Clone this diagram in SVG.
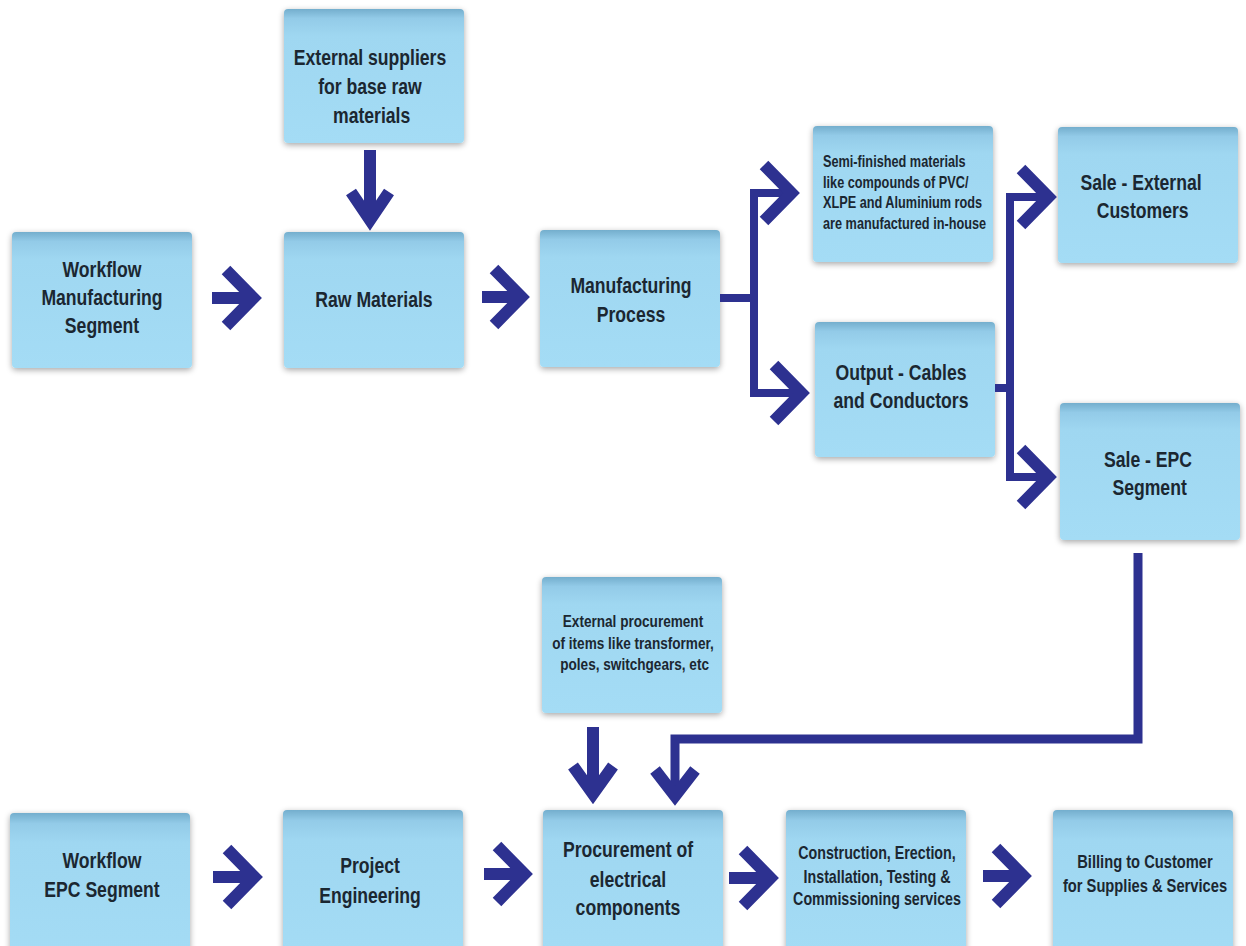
<svg xmlns="http://www.w3.org/2000/svg" width="1246" height="946" viewBox="0 0 1246 946">
<defs>
<linearGradient id="bg" x1="0" y1="0" x2="0" y2="1">
<stop offset="0" stop-color="#74aecd"/>
<stop offset="0.07" stop-color="#93cbe8"/>
<stop offset="0.2" stop-color="#9fd7f1"/>
<stop offset="1" stop-color="#a4dcf5"/>
</linearGradient>
<filter id="sh" x="-10%" y="-10%" width="120%" height="125%">
<feGaussianBlur in="SourceAlpha" stdDeviation="3"/>
<feOffset dx="0" dy="2" result="b"/>
<feComponentTransfer><feFuncA type="linear" slope="0.35"/></feComponentTransfer>
<feMerge><feMergeNode/><feMergeNode in="SourceGraphic"/></feMerge>
</filter>
<style>
.box{fill:url(#bg);filter:url(#sh);}
.t{font-family:"Liberation Sans",Arial,sans-serif;font-weight:bold;fill:#1b2731;text-anchor:middle;}
.l{font-size:22px;}
.a{fill:none;stroke:#2d3190;stroke-width:12;stroke-linejoin:miter;stroke-miterlimit:10;}
.c{fill:none;stroke:#2d3190;stroke-width:8;stroke-linejoin:miter;}
</style>
</defs>
<rect width="1246" height="946" fill="#ffffff"/>

<g id="n1"><rect class="box" x="12" y="232" width="180" height="136" rx="4"/>
<text class="t l" transform="translate(102 0) scale(0.8 1)"><tspan x="0" y="277">Workflow</tspan><tspan x="0" y="305">Manufacturing</tspan><tspan x="0" y="333">Segment</tspan></text></g>

<g id="n2"><rect class="box" x="284" y="9" width="180" height="134" rx="4"/>
<text class="t l" transform="translate(370 0) scale(0.8 1)"><tspan x="0" y="65">External suppliers</tspan><tspan x="0" y="94">for base raw</tspan><tspan x="2" y="123">materials</tspan></text></g>

<g id="n3"><rect class="box" x="284" y="232" width="180" height="136" rx="4"/>
<text class="t l" transform="translate(374 0) scale(0.8 1)" x="0" y="307">Raw Materials</text></g>

<g id="n4"><rect class="box" x="540" y="230" width="180" height="137" rx="4"/>
<text class="t l" transform="translate(631 0) scale(0.8 1)"><tspan x="0" y="293">Manufacturing</tspan><tspan x="0" y="322">Process</tspan></text></g>

<g id="n5"><rect class="box" x="813" y="126" width="180" height="136" rx="4"/>
<text class="t" transform="translate(823 0) scale(0.78 1)" style="font-size:16.3px;text-anchor:start"><tspan x="0" y="167">Semi-finished materials</tspan><tspan x="0" y="188">like compounds of PVC/</tspan><tspan x="0" y="208">XLPE and Aluminium rods</tspan><tspan x="0" y="229">are manufactured in-house</tspan></text></g>

<g id="n6"><rect class="box" x="815" y="322" width="180" height="135" rx="4"/>
<text class="t l" transform="translate(901 0) scale(0.8 1)"><tspan x="0" y="380">Output - Cables</tspan><tspan x="0" y="408">and Conductors</tspan></text></g>

<g id="n7"><rect class="box" x="1058" y="127" width="180" height="136" rx="4"/>
<text class="t l" transform="translate(1141 0) scale(0.8 1)"><tspan x="0" y="190">Sale - External</tspan><tspan x="2" y="218">Customers</tspan></text></g>

<g id="n8"><rect class="box" x="1060" y="403" width="180" height="137" rx="4"/>
<text class="t l" transform="translate(1148 0) scale(0.8 1)"><tspan x="0" y="467">Sale - EPC</tspan><tspan x="2" y="495">Segment</tspan></text></g>

<g id="n9"><rect class="box" x="542" y="577" width="180" height="136" rx="4"/>
<text class="t" transform="translate(633 0) scale(0.8 1)" style="font-size:17px"><tspan x="0" y="627">External procurement</tspan><tspan x="0" y="649">of items like transformer,</tspan><tspan x="2" y="670">poles, switchgears, etc</tspan></text></g>

<g id="n10"><rect class="box" x="10" y="813" width="180" height="150" rx="4"/>
<text class="t l" transform="translate(102 0) scale(0.8 1)"><tspan x="0" y="868">Workflow</tspan><tspan x="0" y="897">EPC Segment</tspan></text></g>

<g id="n11"><rect class="box" x="283" y="810" width="180" height="150" rx="4"/>
<text class="t l" transform="translate(370 0) scale(0.8 1)"><tspan x="0" y="873">Project</tspan><tspan x="0" y="903">Engineering</tspan></text></g>

<g id="n12"><rect class="box" x="543" y="810" width="180" height="150" rx="4"/>
<text class="t" transform="translate(628 0) scale(0.82 1)" style="font-size:21.5px"><tspan x="0" y="857">Procurement of</tspan><tspan x="0" y="887">electrical</tspan><tspan x="0" y="915">components</tspan></text></g>

<g id="n13"><rect class="box" x="786" y="810" width="180" height="150" rx="4"/>
<text class="t" transform="translate(877 0) scale(0.81 1)" style="font-size:17.6px"><tspan x="0" y="859">Construction, Erection,</tspan><tspan x="0" y="883">Installation, Testing &amp;</tspan><tspan x="0" y="905">Commissioning services</tspan></text></g>

<g id="n14"><rect class="box" x="1053" y="810" width="180" height="150" rx="4"/>
<text class="t" transform="translate(1145 0) scale(0.84 1)" style="font-size:17.5px"><tspan x="0" y="868">Billing to Customer</tspan><tspan x="0" y="892">for Supplies &amp; Services</tspan></text></g>

<g id="connectors">
<path class="a" d="M212,298 H250 M226,270 L253.5,298 L226,326"/>
<path class="a" d="M482,297 H518 M494,269 L521.5,297 L494,325"/>
<path class="a" d="M213,877 H251 M227,849 L254.5,877 L227,905"/>
<path class="a" d="M484,874 H521 M497,846 L524.5,874 L497,902"/>
<path class="a" d="M729,878 H768 M743,850 L770.5,878 L743,906"/>
<path class="a" d="M983,876 H1022 M996,848 L1023.5,876 L996,904"/>
<path class="a" d="M370,150 V216 M351,192 L370,220 L389,192"/>
<path class="a" d="M593,727 V790 M573,766 L593,794 L613,766"/>
<path class="c" d="M720,298 H754 V193 H786 M754,298 V393 H796"/>
<path class="a" d="M764,165 L791.5,193 L764,221"/>
<path class="a" d="M774,365 L801.5,393 L774,421"/>
<path class="c" d="M995,388 H1010 V197 H1043 M1010,388 V477 H1043"/>
<path class="a" d="M1021,169 L1048.5,197 L1021,225"/>
<path class="a" d="M1021,449 L1048.5,477 L1021,505"/>
<path class="c" style="stroke-width:9" d="M1138,553 V739 H675 V792"/>
<path class="a" d="M655,770 L675,796 L695,770"/>
</g>
</svg>
